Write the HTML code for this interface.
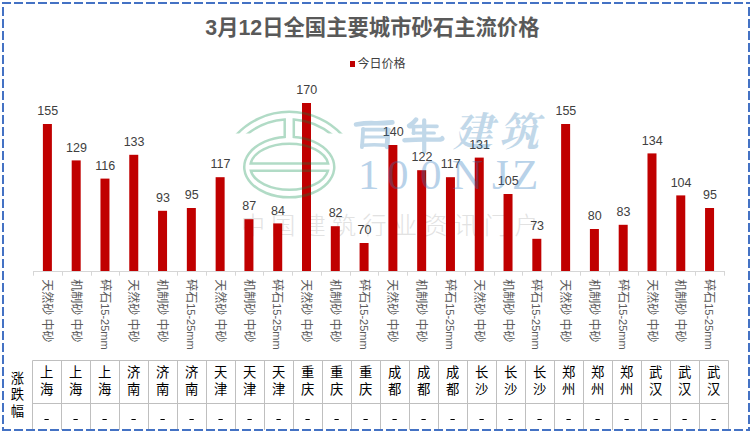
<!DOCTYPE html>
<html><head><meta charset="utf-8"><title>chart</title>
<style>html,body{margin:0;padding:0;background:#fff}body{width:752px;height:434px;overflow:hidden;font-family:"Liberation Sans",sans-serif}svg{display:block}</style>
</head><body>
<svg role="img" aria-label="3月12日全国主要城市砂石主流价格" width="752" height="434" viewBox="0 0 752 434">
<rect width="752" height="434" fill="#fff"/>
<text fill="#e2e2e2" font-family="'Liberation Sans','Noto Sans CJK SC',sans-serif" font-size="24" font-weight="300" y="233.8" x="240.9 271.3 301.7 332.1 362.5 392.9 423.3 453.7 484.1 514.5">中国建筑行业资讯门户</text>
<g fill="#c00000"><rect x="42.89" y="124.00" width="9" height="147.00"/><rect x="71.69" y="160.40" width="9" height="110.60"/><rect x="100.47" y="178.60" width="9" height="92.40"/><rect x="129.26" y="154.80" width="9" height="116.20"/><rect x="158.06" y="210.80" width="9" height="60.20"/><rect x="186.84" y="208.00" width="9" height="63.00"/><rect x="215.63" y="177.20" width="9" height="93.80"/><rect x="244.42" y="219.20" width="9" height="51.80"/><rect x="273.22" y="223.40" width="9" height="47.60"/><rect x="302.00" y="103.00" width="9" height="168.00"/><rect x="330.80" y="226.20" width="9" height="44.80"/><rect x="359.58" y="243.00" width="9" height="28.00"/><rect x="388.38" y="145.00" width="9" height="126.00"/><rect x="417.16" y="170.20" width="9" height="100.80"/><rect x="445.95" y="177.20" width="9" height="93.80"/><rect x="474.75" y="157.60" width="9" height="113.40"/><rect x="503.53" y="194.00" width="9" height="77.00"/><rect x="532.33" y="238.80" width="9" height="32.20"/><rect x="561.12" y="124.00" width="9" height="147.00"/><rect x="589.90" y="229.00" width="9" height="42.00"/><rect x="618.69" y="224.80" width="9" height="46.20"/><rect x="647.49" y="153.40" width="9" height="117.60"/><rect x="676.27" y="195.40" width="9" height="75.60"/><rect x="705.06" y="208.00" width="9" height="63.00"/></g>
<path d="M33.00 271.5H724.96" stroke="#d6d6d6" stroke-width="1" fill="none"/>
<path d="M33.5 271.0v4.7M62.5 271.0v4.7M91.5 271.0v4.7M119.5 271.0v4.7M148.5 271.0v4.7M177.5 271.0v4.7M206.5 271.0v4.7M235.5 271.0v4.7M263.5 271.0v4.7M292.5 271.0v4.7M321.5 271.0v4.7M350.5 271.0v4.7M378.5 271.0v4.7M407.5 271.0v4.7M436.5 271.0v4.7M465.5 271.0v4.7M494.5 271.0v4.7M522.5 271.0v4.7M551.5 271.0v4.7M580.5 271.0v4.7M609.5 271.0v4.7M638.5 271.0v4.7M666.5 271.0v4.7M695.5 271.0v4.7M724.5 271.0v4.7" stroke="#d6d6d6" stroke-width="1" fill="none"/>
<g fill="#404040" font-family="'Liberation Sans',sans-serif" font-size="12.5" text-anchor="middle">
<text x="47.7" y="115.2">155</text>
<text x="76.5" y="151.6">129</text>
<text x="105.3" y="169.8">116</text>
<text x="134.1" y="146">133</text>
<text x="162.9" y="202">93</text>
<text x="191.7" y="199.2">95</text>
<text x="220.4" y="168.4">117</text>
<text x="249.2" y="210.4">87</text>
<text x="278.0" y="214.6">84</text>
<text x="306.8" y="94.2">170</text>
<text x="335.6" y="217.4">82</text>
<text x="364.4" y="234.2">70</text>
<text x="393.2" y="136.2">140</text>
<text x="422.0" y="161.4">122</text>
<text x="450.8" y="168.4">117</text>
<text x="479.6" y="148.8">131</text>
<text x="508.3" y="185.2">105</text>
<text x="537.1" y="230">73</text>
<text x="565.9" y="115.2">155</text>
<text x="594.7" y="220.2">80</text>
<text x="623.5" y="216">83</text>
<text x="652.3" y="144.6">134</text>
<text x="681.1" y="186.6">104</text>
<text x="709.9" y="199.2">95</text>
</g>
<g fill="#595959" font-family="'Liberation Sans','Noto Sans CJK SC',sans-serif" font-size="12">
<text transform="translate(47.39 279.2) rotate(90)" x="0" y="4.4">天然砂 中砂</text>
<text transform="translate(76.19 279.2) rotate(90)" x="0" y="4.4">机制砂 中砂</text>
<text transform="translate(104.97 279.2) rotate(90)" x="0" y="4.4">碎石<tspan font-size="11">15-25mm</tspan></text>
<text transform="translate(133.76 279.2) rotate(90)" x="0" y="4.4">天然砂 中砂</text>
<text transform="translate(162.56 279.2) rotate(90)" x="0" y="4.4">机制砂 中砂</text>
<text transform="translate(191.34 279.2) rotate(90)" x="0" y="4.4">碎石<tspan font-size="11">15-25mm</tspan></text>
<text transform="translate(220.13 279.2) rotate(90)" x="0" y="4.4">天然砂 中砂</text>
<text transform="translate(248.92 279.2) rotate(90)" x="0" y="4.4">机制砂 中砂</text>
<text transform="translate(277.72 279.2) rotate(90)" x="0" y="4.4">碎石<tspan font-size="11">15-25mm</tspan></text>
<text transform="translate(306.50 279.2) rotate(90)" x="0" y="4.4">天然砂 中砂</text>
<text transform="translate(335.30 279.2) rotate(90)" x="0" y="4.4">机制砂 中砂</text>
<text transform="translate(364.08 279.2) rotate(90)" x="0" y="4.4">碎石<tspan font-size="11">15-25mm</tspan></text>
<text transform="translate(392.88 279.2) rotate(90)" x="0" y="4.4">天然砂 中砂</text>
<text transform="translate(421.66 279.2) rotate(90)" x="0" y="4.4">机制砂 中砂</text>
<text transform="translate(450.45 279.2) rotate(90)" x="0" y="4.4">碎石<tspan font-size="11">15-25mm</tspan></text>
<text transform="translate(479.25 279.2) rotate(90)" x="0" y="4.4">天然砂 中砂</text>
<text transform="translate(508.03 279.2) rotate(90)" x="0" y="4.4">机制砂 中砂</text>
<text transform="translate(536.83 279.2) rotate(90)" x="0" y="4.4">碎石<tspan font-size="11">15-25mm</tspan></text>
<text transform="translate(565.62 279.2) rotate(90)" x="0" y="4.4">天然砂 中砂</text>
<text transform="translate(594.40 279.2) rotate(90)" x="0" y="4.4">机制砂 中砂</text>
<text transform="translate(623.19 279.2) rotate(90)" x="0" y="4.4">碎石<tspan font-size="11">15-25mm</tspan></text>
<text transform="translate(651.99 279.2) rotate(90)" x="0" y="4.4">天然砂 中砂</text>
<text transform="translate(680.77 279.2) rotate(90)" x="0" y="4.4">机制砂 中砂</text>
<text transform="translate(709.56 279.2) rotate(90)" x="0" y="4.4">碎石<tspan font-size="11">15-25mm</tspan></text>
</g>
<text x="205.3" y="35.3" fill="#595959" font-family="'Liberation Sans','Noto Sans CJK SC',sans-serif" font-size="21.33" font-weight="bold">3月12日全国主要城市砂石主流价格</text>
<rect x="350" y="61" width="5" height="6" fill="#c00000"/>
<text x="357.5" y="68.3" fill="#404040" font-family="'Liberation Sans','Noto Sans CJK SC',sans-serif" font-size="12">今日价格</text>
<path d="M32.5 360.5H728.5M32.5 403.5H728.5M32.5 360.5V430.0M61.5 360.5V430.0M90.5 360.5V430.0M119.5 360.5V430.0M148.5 360.5V430.0M177.5 360.5V430.0M206.5 360.5V430.0M235.5 360.5V430.0M264.5 360.5V430.0M293.5 360.5V430.0M322.5 360.5V430.0M351.5 360.5V430.0M380.5 360.5V430.0M409.5 360.5V430.0M438.5 360.5V430.0M467.5 360.5V430.0M496.5 360.5V430.0M525.5 360.5V430.0M554.5 360.5V430.0M583.5 360.5V430.0M612.5 360.5V430.0M641.5 360.5V430.0M670.5 360.5V430.0M699.5 360.5V430.0M728.5 360.5V430.0" stroke="#bfbfbf" stroke-width="1" fill="none"/>
<g fill="#000" font-family="'Liberation Sans','Noto Sans CJK SC',sans-serif" font-size="13.33">
<text x="39.9" y="377.3">上</text><text x="39.9" y="394.1">海</text><rect x="44.45" y="419" width="4.3" height="1" stroke="none"/>
<text x="68.9" y="377.3">上</text><text x="68.9" y="394.1">海</text><rect x="73.45" y="419" width="4.3" height="1" stroke="none"/>
<text x="97.9" y="377.3">上</text><text x="97.9" y="394.1">海</text><rect x="102.45" y="419" width="4.3" height="1" stroke="none"/>
<text x="126.9" y="377.3">济</text><text x="126.9" y="394.1">南</text><rect x="131.45" y="419" width="4.3" height="1" stroke="none"/>
<text x="155.9" y="377.3">济</text><text x="155.9" y="394.1">南</text><rect x="160.45" y="419" width="4.3" height="1" stroke="none"/>
<text x="184.9" y="377.3">济</text><text x="184.9" y="394.1">南</text><rect x="189.45" y="419" width="4.3" height="1" stroke="none"/>
<text x="213.9" y="377.3">天</text><text x="213.9" y="394.1">津</text><rect x="218.45" y="419" width="4.3" height="1" stroke="none"/>
<text x="242.9" y="377.3">天</text><text x="242.9" y="394.1">津</text><rect x="247.45" y="419" width="4.3" height="1" stroke="none"/>
<text x="271.9" y="377.3">天</text><text x="271.9" y="394.1">津</text><rect x="276.45" y="419" width="4.3" height="1" stroke="none"/>
<text x="300.9" y="377.3">重</text><text x="300.9" y="394.1">庆</text><rect x="305.45" y="419" width="4.3" height="1" stroke="none"/>
<text x="329.9" y="377.3">重</text><text x="329.9" y="394.1">庆</text><rect x="334.45" y="419" width="4.3" height="1" stroke="none"/>
<text x="358.9" y="377.3">重</text><text x="358.9" y="394.1">庆</text><rect x="363.45" y="419" width="4.3" height="1" stroke="none"/>
<text x="387.9" y="377.3">成</text><text x="387.9" y="394.1">都</text><rect x="392.45" y="419" width="4.3" height="1" stroke="none"/>
<text x="416.9" y="377.3">成</text><text x="416.9" y="394.1">都</text><rect x="421.45" y="419" width="4.3" height="1" stroke="none"/>
<text x="445.9" y="377.3">成</text><text x="445.9" y="394.1">都</text><rect x="450.45" y="419" width="4.3" height="1" stroke="none"/>
<text x="474.9" y="377.3">长</text><text x="474.9" y="394.1">沙</text><rect x="479.45" y="419" width="4.3" height="1" stroke="none"/>
<text x="503.9" y="377.3">长</text><text x="503.9" y="394.1">沙</text><rect x="508.45" y="419" width="4.3" height="1" stroke="none"/>
<text x="532.9" y="377.3">长</text><text x="532.9" y="394.1">沙</text><rect x="537.45" y="419" width="4.3" height="1" stroke="none"/>
<text x="561.9" y="377.3">郑</text><text x="561.9" y="394.1">州</text><rect x="566.45" y="419" width="4.3" height="1" stroke="none"/>
<text x="590.9" y="377.3">郑</text><text x="590.9" y="394.1">州</text><rect x="595.45" y="419" width="4.3" height="1" stroke="none"/>
<text x="619.9" y="377.3">郑</text><text x="619.9" y="394.1">州</text><rect x="624.45" y="419" width="4.3" height="1" stroke="none"/>
<text x="648.9" y="377.3">武</text><text x="648.9" y="394.1">汉</text><rect x="653.45" y="419" width="4.3" height="1" stroke="none"/>
<text x="677.9" y="377.3">武</text><text x="677.9" y="394.1">汉</text><rect x="682.45" y="419" width="4.3" height="1" stroke="none"/>
<text x="706.9" y="377.3">武</text><text x="706.9" y="394.1">汉</text><rect x="711.45" y="419" width="4.3" height="1" stroke="none"/>
<text x="10.8" y="382.5">涨</text><text x="10.8" y="399.1">跌</text><text x="10.8" y="415.7">幅</text>
</g>
<g opacity="0.3" transform="translate(0 0.3)"><clipPath id="lc"><path clip-rule="evenodd" d="M0 0H752V434H0ZM228 133.3H264V137H228ZM316 133.3H352V137H316Z"/></clipPath><g clip-path="url(#lc)"><path d="M236.3 134.5A72.4 72.4 0 0 1 342.1 134.5" fill="none" stroke="#008a44" stroke-width="2.5" stroke-linejoin="miter"/><path d="M246.4 134.5A67.2 67.2 0 0 1 284.7 119.2V136.6A45 30.3 0 1 0 293.8 136.6V119.2A67.2 67.2 0 0 1 332 134.5" fill="none" stroke="#008a44" stroke-width="2.5" stroke-linejoin="miter"/></g><path d="M250.7 163.2H328.1A39 22.5 0 0 0 250.7 163.2Z" fill="none" stroke="#008a44" stroke-width="2.5" stroke-linejoin="miter"/><path d="M250.9 170.5H327.9A39 22.5 0 0 1 250.9 170.5Z" fill="none" stroke="#008a44" stroke-width="2.5" stroke-linejoin="miter"/></g>
<text fill="#2676b2" opacity="0.28" font-family="'Liberation Serif','Noto Serif CJK SC',serif" font-size="40" font-weight="bold" font-style="italic" y="146" x="453 499">建筑</text>
<g fill="none" stroke="#2676b2" stroke-linecap="round" stroke-linejoin="round" opacity="0.28"><path d="M356 124.4Q365 123 374 123.2T392.4 122.4" stroke-width="4.6"/><path d="M363.1 129Q362.8 138 361.9 147.2" stroke-width="3.8"/><path d="M363 129.6H389" stroke-width="3.6"/><path d="M364 137H384.5" stroke-width="3.0"/><path d="M362.2 145.2Q374 144.4 386.5 145.2" stroke-width="3.6"/><path d="M387.4 130Q388 138 387 146.8" stroke-width="4.8"/><path d="M416 119.6Q413 123.5 409.2 125.8" stroke-width="4.6"/><path d="M410 126.8Q424 126 437 126.4" stroke-width="3.6"/><path d="M413.6 127.5V133.4" stroke-width="3.4"/><path d="M413 133H434.4" stroke-width="3.0"/><path d="M404.4 140.2Q420 139.2 432 139.6T442.2 138.2" stroke-width="4.4"/><path d="M424.2 120.4V151.8" stroke-width="4.2"/></g>
<text fill="#2c79bd" opacity="0.33" font-family="'Liberation Serif',serif" font-size="43" y="188.6" x="358 387 420 452 492 512">100NJZ</text>
<path d="M2 3H750" stroke="#4472c4" stroke-width="2" stroke-dasharray="9 3" fill="none"/>
<path d="M2 430H750" stroke="#4472c4" stroke-width="2" stroke-dasharray="9 3" fill="none"/>
<path d="M3 7V431" stroke="#4472c4" stroke-width="2" stroke-dasharray="9 3" fill="none"/>
<path d="M749 7V431" stroke="#4472c4" stroke-width="2" stroke-dasharray="9 3" fill="none"/>
</svg>
</body></html>
